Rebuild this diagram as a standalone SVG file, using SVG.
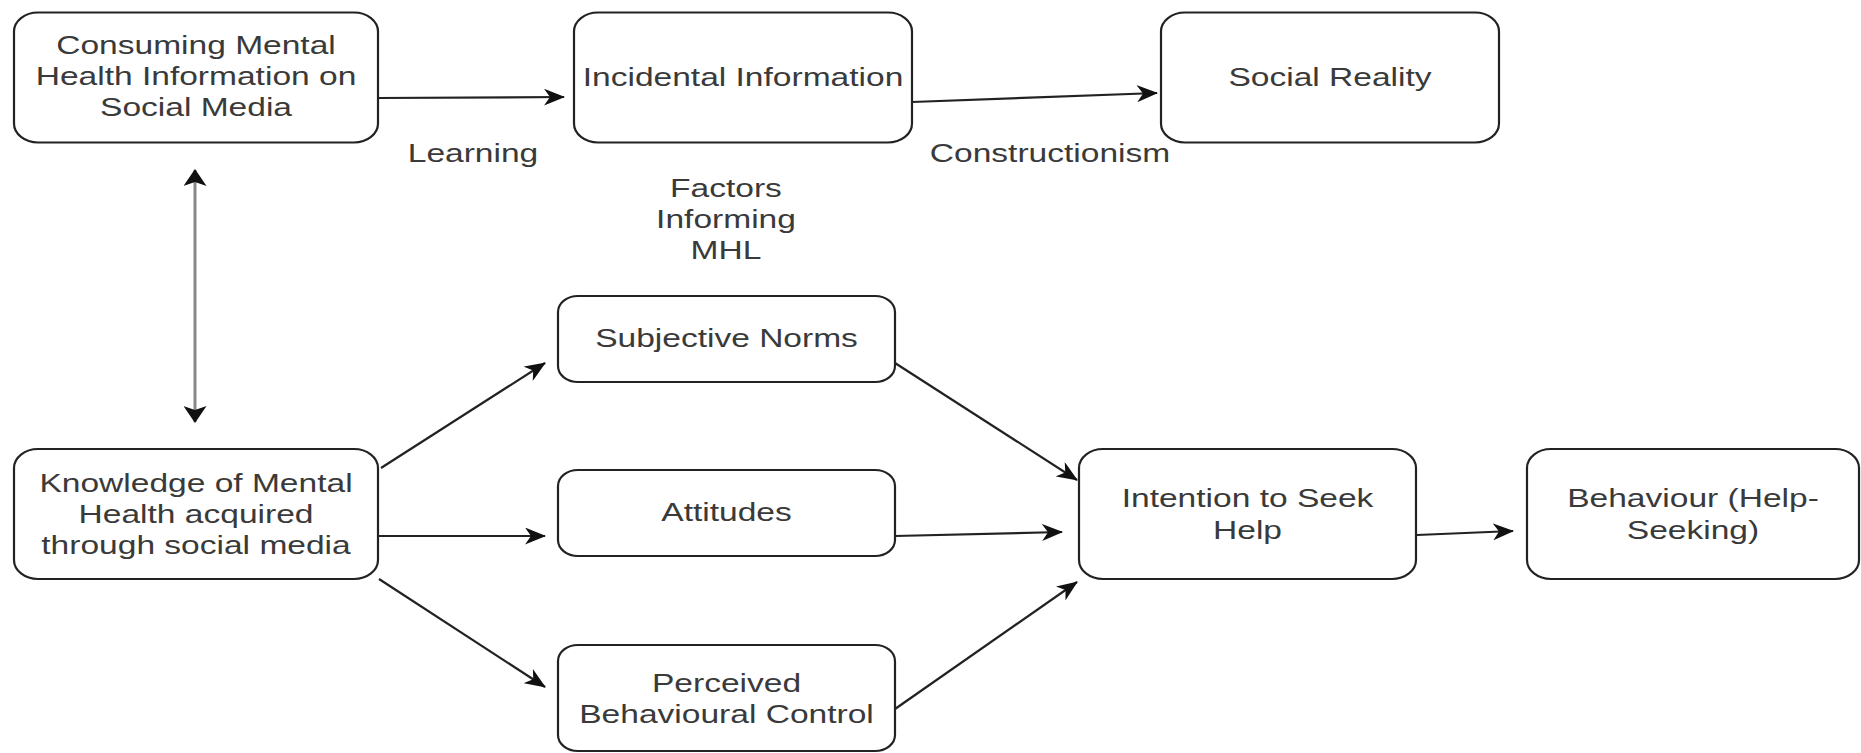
<svg xmlns="http://www.w3.org/2000/svg" width="1861" height="753" viewBox="0 0 1861 753">
<style>
.box{fill:#fff;stroke:#222;stroke-width:2.2}
.t{font-family:"Liberation Sans",Arial,sans-serif;font-size:26px;fill:#3a3a3a;text-anchor:middle}
.c{fill:none;stroke:#222;stroke-width:2.2}
.v{fill:none;stroke:#888;stroke-width:3}
</style>
<defs>
<marker id="ah" viewBox="0 0 21 17" refX="20" refY="8.5" markerWidth="21" markerHeight="17" markerUnits="userSpaceOnUse" orient="auto-start-reverse">
<path d="M0,0 L21,8.5 L0,17 L6,8.5 Z" fill="#111"/>
</marker>
<marker id="av" viewBox="0 0 17 23" refX="16" refY="11.5" markerWidth="17" markerHeight="23" markerUnits="userSpaceOnUse" orient="auto-start-reverse">
<path d="M0,0 L17,11.5 L0,23 L4,11.5 Z" fill="#111"/>
</marker>
</defs>
<rect width="1861" height="753" fill="#fff"/>
<g id="connectors">
<path class="c" d="M378,98 L564,97" marker-end="url(#ah)"/>
<path class="c" d="M912,102 L1157,93" marker-end="url(#ah)"/>
<path class="v" d="M195,170 L195,422" marker-start="url(#av)" marker-end="url(#av)"/>
<path class="c" d="M381,468 L545,363" marker-end="url(#ah)"/>
<path class="c" d="M378,536 L545,536" marker-end="url(#ah)"/>
<path class="c" d="M379,579 L545,687" marker-end="url(#ah)"/>
<path class="c" d="M895,363 L1077,480" marker-end="url(#ah)"/>
<path class="c" d="M895,536 L1062,532" marker-end="url(#ah)"/>
<path class="c" d="M895,709 L1077,582" marker-end="url(#ah)"/>
<path class="c" d="M1417,535 L1513,531" marker-end="url(#ah)"/>
</g>
<g id="labels">
<text class="t" transform="translate(473,162) scale(1.29,1)">Learning</text>
<text class="t" transform="translate(1050,162) scale(1.29,1)">Constructionism</text>
<text class="t" transform="translate(726,197) scale(1.29,1)">Factors</text>
<text class="t" transform="translate(726,228) scale(1.29,1)">Informing</text>
<text class="t" transform="translate(726,259) scale(1.29,1)">MHL</text>
</g>
<g id="consuming">
<rect class="box" x="14" y="12.5" width="364" height="130" rx="24" ry="19"/>
<text class="t" transform="translate(196,54) scale(1.29,1)">Consuming Mental</text>
<text class="t" transform="translate(196,85) scale(1.29,1)">Health Information on</text>
<text class="t" transform="translate(196,116) scale(1.29,1)">Social Media</text>
</g>
<g id="incidental">
<rect class="box" x="574" y="12.5" width="338" height="130" rx="24" ry="19"/>
<text class="t" transform="translate(743,86) scale(1.29,1)">Incidental Information</text>
</g>
<g id="social-reality">
<rect class="box" x="1161" y="12.5" width="338" height="130" rx="24" ry="19"/>
<text class="t" transform="translate(1330,86) scale(1.29,1)">Social Reality</text>
</g>
<g id="knowledge">
<rect class="box" x="14" y="449" width="364" height="130" rx="24" ry="19"/>
<text class="t" transform="translate(196,492) scale(1.29,1)">Knowledge of Mental</text>
<text class="t" transform="translate(196,523) scale(1.29,1)">Health acquired</text>
<text class="t" transform="translate(196,554) scale(1.29,1)">through social media</text>
</g>
<g id="subjective-norms">
<rect class="box" x="558" y="296" width="337" height="86" rx="20" ry="16"/>
<text class="t" transform="translate(726.5,347) scale(1.29,1)">Subjective Norms</text>
</g>
<g id="attitudes">
<rect class="box" x="558" y="470" width="337" height="86" rx="20" ry="16"/>
<text class="t" transform="translate(726.5,521) scale(1.29,1)">Attitudes</text>
</g>
<g id="perceived">
<rect class="box" x="558" y="645" width="337" height="106" rx="20" ry="16"/>
<text class="t" transform="translate(726.5,692) scale(1.29,1)">Perceived</text>
<text class="t" transform="translate(726.5,723) scale(1.29,1)">Behavioural Control</text>
</g>
<g id="intention">
<rect class="box" x="1079" y="449" width="337" height="130" rx="24" ry="19"/>
<text class="t" transform="translate(1247.5,507) scale(1.29,1)">Intention to Seek</text>
<text class="t" transform="translate(1247.5,539) scale(1.29,1)">Help</text>
</g>
<g id="behaviour">
<rect class="box" x="1527" y="449" width="332" height="130" rx="24" ry="19"/>
<text class="t" transform="translate(1693,507) scale(1.29,1)">Behaviour (Help-</text>
<text class="t" transform="translate(1693,539) scale(1.29,1)">Seeking)</text>
</g>
</svg>
